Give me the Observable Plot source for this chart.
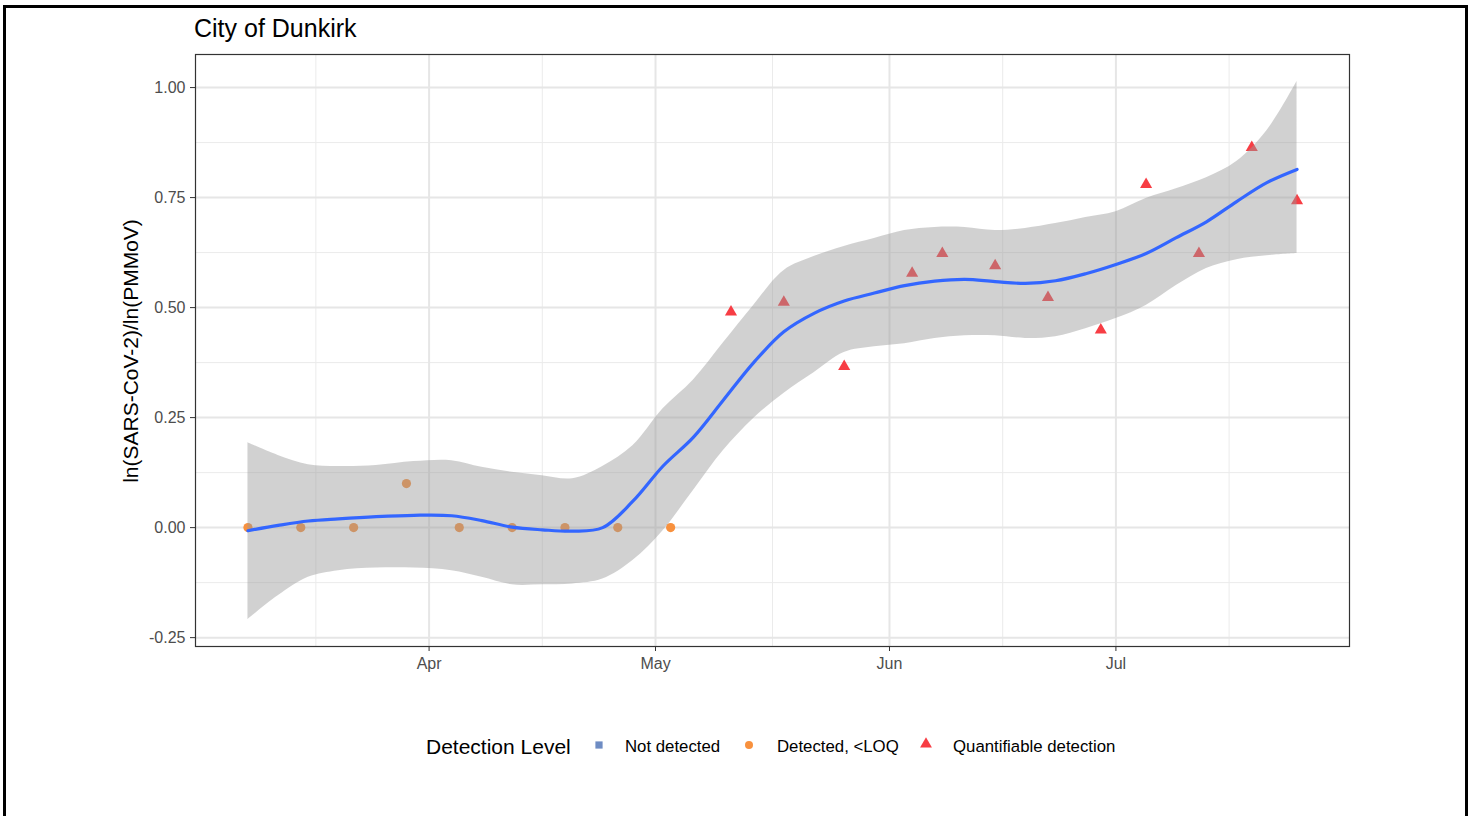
<!DOCTYPE html>
<html>
<head>
<meta charset="utf-8">
<script src="https://cdn.jsdelivr.net/npm/d3@7"></script>
<script src="https://cdn.jsdelivr.net/npm/@observablehq/plot@0.6"></script>
<style>
  body { margin: 0; background: #fff; font-family: "Liberation Sans", Arial, Helvetica, sans-serif; }
  #page { position: relative; width: 1475px; height: 816px; overflow: hidden; background: #fff; }
  #border { position: absolute; left: 3px; top: 5px; width: 1459px; height: 840px; border: 3px solid #000; }
  #chart { position: absolute; left: 0; top: 0; }
  #title { position: absolute; left: 194px; top: 14px; font-size: 25px; color: #000; white-space: nowrap; }
  #ytitle { position: absolute; left: 131px; top: 351px; font-size: 21px; color: #000; white-space: nowrap;
            transform: translate(-50%, -50%) rotate(-90deg); }
  .lg { position: absolute; white-space: nowrap; color: #000; }
  .lgtitle { font-size: 21px; }
  .lgtext { font-size: 16.8px; }
  .key { position: absolute; }
</style>
</head>
<body>
<div id="page">
  <div id="chart"></div>
  <div id="title">City of Dunkirk</div>
  <div id="ytitle">ln(SARS-CoV-2)/ln(PMMoV)</div>
  <div id="legend"></div>
  <div id="border"></div>
</div>
<script>
// ---------------- data ----------------
const circleDates = ["2021-03-08","2021-03-15","2021-03-22","2021-03-29","2021-04-05","2021-04-12","2021-04-19","2021-04-26","2021-05-03"];
const circleValues = [0, 0, 0, 0.10, 0, 0, 0, 0, 0];

const triangleDates = ["2021-05-11","2021-05-18","2021-05-26","2021-06-04","2021-06-08","2021-06-15","2021-06-22","2021-06-29","2021-07-05","2021-07-12","2021-07-19","2021-07-25"];
const triangleValues = [0.490, 0.512, 0.366, 0.578, 0.623, 0.595, 0.523, 0.449, 0.780, 0.623, 0.864, 0.743];

const smoothDates = ["2021-03-08","2021-03-12","2021-03-16","2021-03-20","2021-03-25","2021-03-30","2021-04-04","2021-04-08","2021-04-12","2021-04-16","2021-04-20","2021-04-24","2021-04-28","2021-05-02","2021-05-06","2021-05-10","2021-05-14","2021-05-18","2021-05-22","2021-05-26","2021-05-30","2021-06-03","2021-06-07","2021-06-11","2021-06-15","2021-06-19","2021-06-23","2021-06-27","2021-07-01","2021-07-05","2021-07-09","2021-07-13","2021-07-17","2021-07-21","2021-07-25"];
const smoothFit = [-0.007, 0.005, 0.015, 0.020, 0.025, 0.028, 0.027, 0.016, 0.001, -0.005, -0.008, 0.000, 0.060, 0.140, 0.205, 0.290, 0.375, 0.445, 0.487, 0.515, 0.533, 0.550, 0.560, 0.564, 0.559, 0.555, 0.561, 0.577, 0.598, 0.623, 0.659, 0.695, 0.741, 0.784, 0.814];
const smoothUpper = [0.193, 0.164, 0.143, 0.139, 0.141, 0.150, 0.152, 0.137, 0.126, 0.118, 0.111, 0.139, 0.186, 0.270, 0.335, 0.420, 0.505, 0.584, 0.616, 0.639, 0.657, 0.675, 0.682, 0.682, 0.675, 0.680, 0.691, 0.705, 0.718, 0.748, 0.770, 0.795, 0.832, 0.902, 1.014];
const smoothLower = [-0.209, -0.155, -0.113, -0.098, -0.092, -0.092, -0.098, -0.113, -0.130, -0.130, -0.128, -0.117, -0.075, -0.007, 0.084, 0.175, 0.248, 0.305, 0.352, 0.398, 0.411, 0.418, 0.430, 0.436, 0.436, 0.430, 0.434, 0.452, 0.475, 0.505, 0.550, 0.589, 0.609, 0.618, 0.623];

const xTickDates = ["2021-04-01","2021-05-01","2021-06-01","2021-07-01"];
const xTickLabels = ["Apr","May","Jun","Jul"];
const xMinorDates = ["2021-03-17","2021-04-16","2021-05-16T12:00","2021-06-16","2021-07-16"];
const yTicks = [-0.25, 0, 0.25, 0.5, 0.75, 1.0];
const yMinor = [-0.125, 0.125, 0.375, 0.625, 0.875];

const legendTitle = "Detection Level";
const legendLabels = ["Not detected", "Detected, <LOQ", "Quantifiable detection"];
const legendColors = ["#6E8CC3", "#F8913E", "#F73D44"];

// ---------------- build ----------------
const toDate = s => new Date(s.length > 10 ? s + "Z" : s + "T00:00Z");
const circles = circleDates.map((d, i) => ({date: toDate(d), value: circleValues[i]}));
const triangles = triangleDates.map((d, i) => ({date: toDate(d), value: triangleValues[i]}));
const smooth = smoothDates.map((d, i) => ({date: toDate(d), fit: smoothFit[i], lower: smoothLower[i], upper: smoothUpper[i]}));
const xMajor = xTickDates.map(toDate);
const xMinor = xMinorDates.map(toDate);
const labelByTime = new Map(xMajor.map((d, i) => [+d, xTickLabels[i]]));

const allDates = [...circles, ...triangles].map(d => d.date);
const [dx0, dx1] = d3.extent(allDates);
const padX = (dx1 - dx0) * 0.05;
const allY = [...circleValues, ...triangleValues, ...smoothLower, ...smoothUpper];
const [vy0, vy1] = d3.extent(allY);
const padY = (vy1 - vy0) * 0.05;

const W = 1475, H = 700;
const chart = Plot.plot({
  width: W, height: H,
  marginLeft: 195, marginRight: 126, marginTop: 54, marginBottom: 54,
  style: {fontFamily: '"Liberation Sans", Arial, Helvetica, sans-serif', fontSize: "16px", color: "#4d4d4d", background: "transparent"},
  x: {type: "utc", domain: [new Date(+dx0 - padX), new Date(+dx1 + padX)]},
  y: {domain: [vy0 - padY, vy1 + padY]},
  marks: [
    Plot.ruleX(xMinor, {stroke: "#ebebeb", strokeWidth: 1}),
    Plot.ruleY(yMinor, {stroke: "#ebebeb", strokeWidth: 1}),
    Plot.ruleX(xMajor, {stroke: "#e6e6e6", strokeWidth: 2}),
    Plot.ruleY(yTicks, {stroke: "#e6e6e6", strokeWidth: 2}),
    Plot.dot(circles, {x: "date", y: "value", r: 4.6, fill: legendColors[1], stroke: "none"}),
    Plot.dot(triangles, {x: "date", y: "value", symbol: "triangle", r: 4.5, fill: legendColors[2], stroke: "none"}),
    Plot.areaY(smooth, {x: "date", y1: "lower", y2: "upper", fill: "#999999", fillOpacity: 0.45, curve: "catmull-rom"}),
    Plot.line(smooth, {x: "date", y: "fit", stroke: "#3366FF", strokeWidth: 3.2, curve: "catmull-rom"}),
    Plot.axisX(xMajor, {tickFormat: d => labelByTime.get(+d), tickSize: 5, tickPadding: 6, stroke: "#333", fill: "#4d4d4d", label: null}),
    Plot.axisY(yTicks, {tickFormat: d => d.toFixed(2), tickSize: 5, tickPadding: 5, stroke: "#333", fill: "#4d4d4d", label: null}),
    Plot.frame({stroke: "#333", strokeWidth: 1.2})
  ]
});
document.getElementById("chart").appendChild(chart);

// ---------------- legend ----------------
const lg = document.getElementById("legend");
function addText(txt, cls, left, centerY) {
  const el = document.createElement("div");
  el.className = "lg " + cls;
  el.textContent = txt;
  el.style.left = left + "px";
  el.style.top = centerY + "px";
  el.style.transform = "translateY(-50%)";
  lg.appendChild(el);
}
function addKey(kind, color, cx, cy) {
  const s = 14;
  const svg = d3.create("svg").attr("class", "key").attr("width", s).attr("height", s)
    .style("left", (cx - s / 2) + "px").style("top", (cy - s / 2) + "px");
  const g = svg.append("g").attr("transform", `translate(${s / 2},${s / 2})`);
  if (kind === "square") g.append("rect").attr("x", -3.6).attr("y", -3.6).attr("width", 7.2).attr("height", 7.2).attr("fill", color);
  else if (kind === "circle") g.append("circle").attr("r", 4).attr("fill", color);
  else g.append("path").attr("d", d3.symbol(d3.symbolTriangle, Math.PI * 4.4 * 4.4)()).attr("fill", color);
  lg.appendChild(svg.node());
}
addText(legendTitle, "lgtitle", 426, 747);
addKey("square", legendColors[0], 599, 745);
addText(legendLabels[0], "lgtext", 625, 747);
addKey("circle", legendColors[1], 749, 745);
addText(legendLabels[1], "lgtext", 777, 747);
addKey("triangle", legendColors[2], 926, 744);
addText(legendLabels[2], "lgtext", 953, 747);
</script>
</body>
</html>
